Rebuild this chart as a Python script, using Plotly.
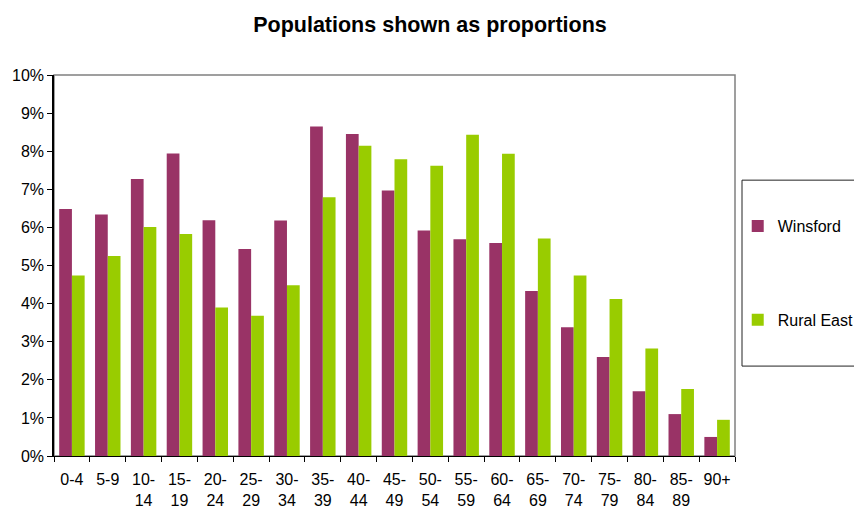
import plotly.graph_objects as go

categories = ["0-4", "5-9", "10-<br>14", "15-<br>19", "20-<br>24", "25-<br>29", "30-<br>34",
              "35-<br>39", "40-<br>44", "45-<br>49", "50-<br>54", "55-<br>59", "60-<br>64",
              "65-<br>69", "70-<br>74", "75-<br>79", "80-<br>84", "85-<br>89", "90+"]
winsford = [6.48, 6.34, 7.27, 7.94, 6.19, 5.43, 6.18, 8.65, 8.45, 6.97, 5.92, 5.69, 5.59,
            4.33, 3.38, 2.60, 1.70, 1.10, 0.50]
rural_east = [4.74, 5.25, 6.01, 5.83, 3.90, 3.68, 4.48, 6.79, 8.14, 7.79, 7.62, 8.43, 7.93,
              5.71, 4.74, 4.12, 2.82, 1.76, 0.95]
y_ticks = list(range(0, 11))
y_tick_labels = [f"{v}%" for v in y_ticks]

fig = go.Figure()
fig.add_trace(go.Bar(x=categories, y=winsford, name="Winsford", marker_color="#993366",
                     marker_line_width=0, legendgroup="a"))
fig.add_trace(go.Bar(x=categories, y=rural_east, name="Rural East", marker_color="#99CC00",
                     marker_line_width=0, legendgroup="b"))

font = "Arial, Liberation Sans, sans-serif"
fig.update_layout(
    template="none",
    width=854, height=506,
    margin=dict(l=54, r=119, t=75, b=50, autoexpand=False),
    paper_bgcolor="white", plot_bgcolor="white",
    title=dict(text="<b>Populations shown as proportions</b>", x=0.5035, xanchor="center",
               y=0.951, yanchor="middle", font=dict(family=font, size=21.5, color="black")),
    barmode="group", bargap=0.29, bargroupgap=0,
    font=dict(family=font, size=16, color="black"),
    showlegend=True,
    legend=dict(x=1.004, xref="paper", xanchor="left", y=0.48, yanchor="middle",
                bgcolor="rgba(0,0,0,0)", borderwidth=0, tracegroupgap=70,
                font=dict(family=font, size=16, color="black"), itemwidth=30),
    xaxis=dict(type="category", showline=True, linecolor="black", linewidth=1,
               ticks="outside", tickson="boundaries", ticklen=5, tickcolor="black",
               showgrid=False, tickangle=0, automargin=False, ticklabelstandoff=9,
               tickfont=dict(family=font, size=16)),
    yaxis=dict(range=[0, 10], tickvals=y_ticks, ticktext=y_tick_labels, showline=True,
               linecolor="black", linewidth=1.5, ticks="outside", ticklen=5,
               tickcolor="black", showgrid=False, zeroline=False, automargin=False,
               tickfont=dict(family=font, size=16)),
    shapes=[
        dict(type="rect", xref="x domain", yref="y domain", x0=0, x1=1, y0=0, y1=1,
             line=dict(color="#808080", width=1.5), layer="below"),
        dict(type="rect", xref="paper", yref="paper", x0=1.0103, x1=1.2, y0=0.236, y1=0.724,
             line=dict(color="#222222", width=1)),
    ],
)

fig.write_html(
    "out.html",
    config={"displayModeBar": False},
    post_script="document.body.style.margin='0';document.body.style.overflow='hidden';",
)
